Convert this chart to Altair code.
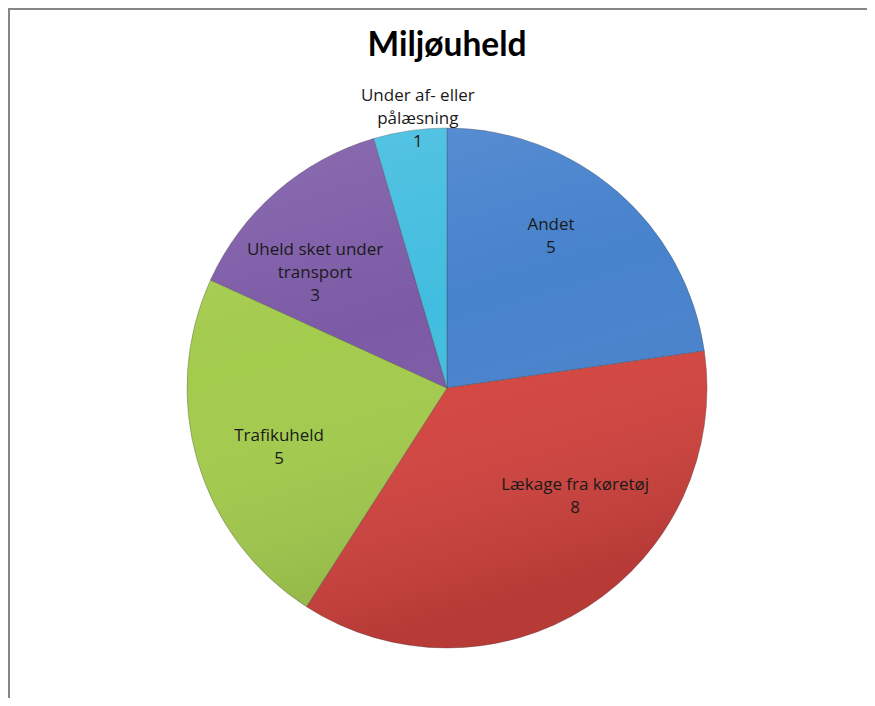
import math
import altair as alt
import pandas as pd

categories = ["Andet", "Lækage fra køretøj", "Trafikuheld",
              "Uheld sket under transport", "Under af- eller pålæsning"]
display_labels = ["Andet", "Lækage fra køretøj", "Trafikuheld",
                  "Uheld sket under\ntransport", "Under af- eller\npålæsning"]
values = [5, 8, 5, 3, 1]
colors = ["#4782CD", "#D5443F", "#A3CB4C", "#7C5AA6", "#42BDDF"]
title_text = "Miljøuheld"

df = pd.DataFrame({
    "cat": categories,
    "disp": display_labels,
    "value": values,
    "order": list(range(len(categories))),
})

W, H = 800, 600
R = 260
LH = 23
# label placement (Excel "best fit"): angular shift from slice middle (degrees) and radius (px)
LABEL_SHIFT = "[-6.5, -17, -3, -8, 2]"
LABEL_RADIUS = "[184, 168, 178, 175, 271]"

base = alt.Chart(df)

pie = base.mark_arc(radius=R, stroke="#3a3a3a", strokeWidth=0.7, strokeOpacity=0.45).encode(
    theta=alt.Theta("value:Q", stack=True),
    order=alt.Order("order:Q", sort="ascending"),
    color=alt.Color("cat:N", scale=alt.Scale(domain=categories, range=colors), legend=None),
)

shade = alt.Chart(pd.DataFrame({"a": [0]})).mark_arc(
    radius=R, theta=0, theta2=2 * math.pi,
    fill=alt.Gradient(
        gradient="linear",
        stops=[alt.GradientStop(color="rgba(255,255,255,0.12)", offset=0),
               alt.GradientStop(color="rgba(255,255,255,0.0)", offset=0.45),
               alt.GradientStop(color="rgba(0,0,0,0.14)", offset=1)],
        x1=0, x2=0.3, y1=0, y2=1,
    ),
).encode(x=alt.value(W / 2), y=alt.value(H / 2))

labels = base.transform_window(
    cum="sum(value)", sort=[alt.SortField("order")], frame=[None, 0]
).transform_joinaggregate(
    total="sum(value)"
).transform_calculate(
    mid=f"(datum.cum - datum.value / 2) / datum.total * 2 * PI + {LABEL_SHIFT}[datum.order] * PI / 180",
    r=f"{LABEL_RADIUS}[datum.order]",
    txt="datum.disp + '\\n' + datum.value",
    nl="length(split(datum.txt, '\\n'))",
    px="width / 2 + datum.r * sin(datum.mid)",
    py=f"height / 2 - datum.r * cos(datum.mid) - (datum.nl - 1) * {LH} / 2",
).mark_text(
    fontSize=17, lineHeight=LH, font="Open Sans", color="#1a1a1a",
    lineBreak="\n", align="center", baseline="middle",
).encode(
    x=alt.X("px:Q", scale=None),
    y=alt.Y("py:Q", scale=None),
    text="txt:N",
)

title = alt.Chart(pd.DataFrame({"t": [title_text]})).mark_text(
    font="Lato", fontSize=33.5, fontWeight="bold", color="#000000",
    align="center", baseline="alphabetic",
).encode(x=alt.value(W / 2), y=alt.value(-32), text="t:N")

frame_df = pd.DataFrame({"a": [0]})
left_border = alt.Chart(frame_df).mark_rule(color="#868686", strokeWidth=2).encode(
    x=alt.value(-38), y=alt.value(-79), y2=alt.value(610))
top_border = alt.Chart(frame_df).mark_rule(color="#868686", strokeWidth=2).encode(
    x=alt.value(-39), x2=alt.value(840), y=alt.value(-79))

chart = alt.layer(pie, shade, labels, title, left_border, top_border).properties(
    width=W, height=H,
    padding={"left": 39, "top": 80, "right": 20, "bottom": 10},
    autosize=alt.AutoSizeParams(type="none"),
).configure_view(stroke=None)

chart.save("out.html", embed_options={"renderer": "svg", "actions": False})
